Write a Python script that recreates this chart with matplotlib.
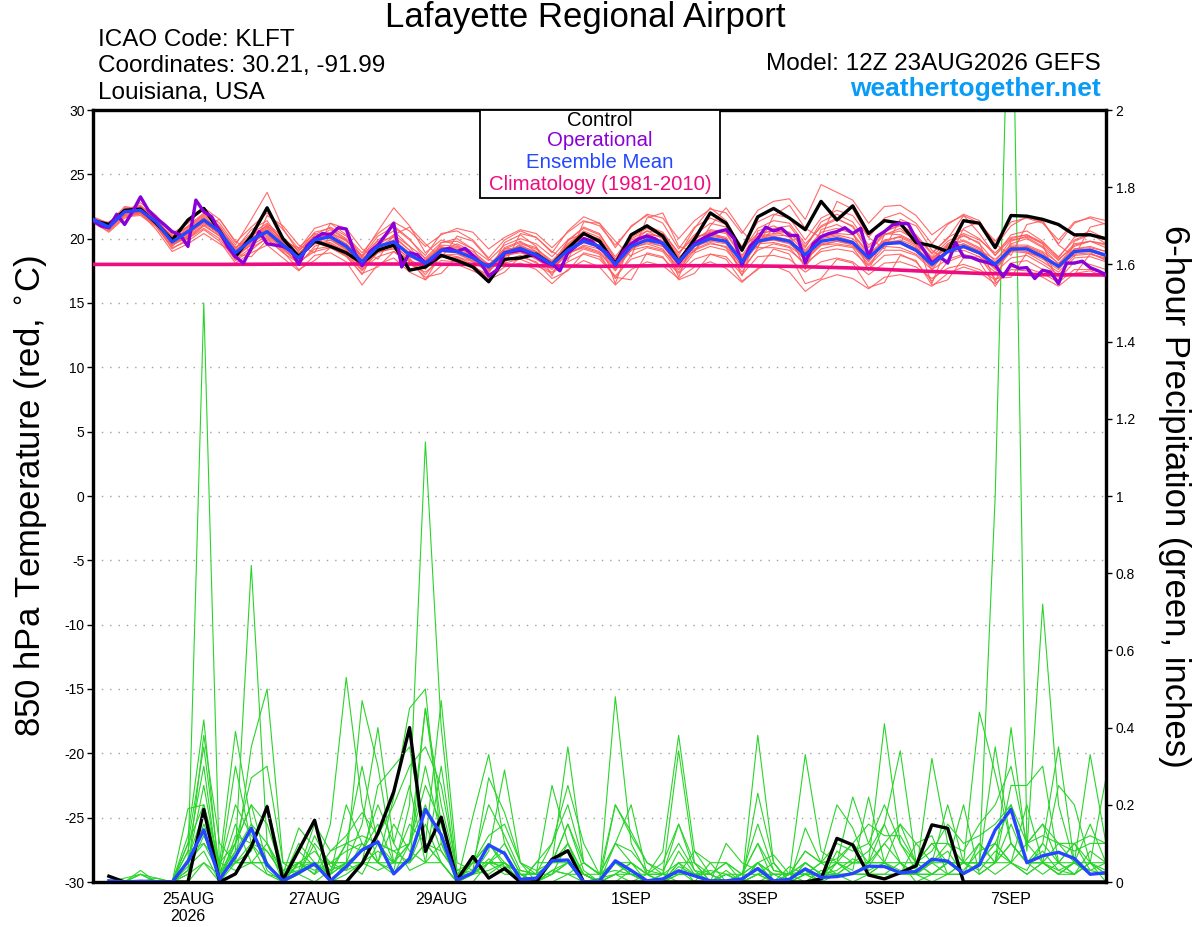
import matplotlib
matplotlib.use('Agg')
import matplotlib.pyplot as plt
import matplotlib.dates as mdates
from matplotlib.patches import Rectangle
from datetime import datetime, timedelta

plt.rcParams['font.family'] = ['Liberation Sans', 'DejaVu Sans']

# ---------------- data ----------------
start = datetime(2026, 8, 23, 12)
n_steps = 65          # 6-hourly temperature points
n_oper = 129          # 3-hourly operational points
n_clim = 17           # daily climatology points

tick_dates = [datetime(2026, 8, 25), datetime(2026, 8, 27), datetime(2026, 8, 29),
              datetime(2026, 9, 1), datetime(2026, 9, 3), datetime(2026, 9, 5),
              datetime(2026, 9, 7)]
tick_labels = ["25AUG\n2026", "27AUG", "29AUG", "1SEP", "3SEP", "5SEP", "7SEP"]
temp_ticks = [-30, -25, -20, -15, -10, -5, 0, 5, 10, 15, 20, 25, 30]
precip_ticks = [0, 0.2, 0.4, 0.6, 0.8, 1.0, 1.2, 1.4, 1.6, 1.8, 2.0]
precip_tick_labels = ["0", "0.2", "0.4", "0.6", "0.8", "1", "1.2", "1.4", "1.6", "1.8", "2"]

control_temp = [21.4, 21.1, 22.2, 22.3, 21.2, 19.9, 21.45, 22.35, 20.6, 18.6, 20.2, 22.4, 20.0,
                18.6, 19.8, 19.4, 18.9, 18.1, 19.1, 19.5, 17.55, 17.8, 18.7, 18.3, 17.8, 16.65,
                18.4, 18.5, 18.8, 18.0, 19.25, 20.4, 19.8, 18.05, 20.3, 21.0, 20.2, 18.2, 19.95,
                22.0, 21.2, 19.1, 21.7, 22.35, 21.6, 20.7, 22.9, 21.45, 22.55, 20.4, 21.4, 21.2,
                19.7, 19.45, 19.0, 21.4, 21.2, 19.3, 21.8, 21.75, 21.5, 21.1, 20.3, 20.3, 20.0]

mean_temp = [21.5, 20.9, 22.1, 22.2, 21.3, 19.75, 20.55, 21.45, 20.55, 18.9, 19.9, 20.55, 19.5,
             18.5, 19.9, 20.15, 19.4, 18.2, 19.4, 19.75, 18.75, 18.1, 19.1, 19.0, 18.5, 17.8,
             18.9, 19.25, 18.75, 18.0, 19.1, 19.8, 19.4, 18.0, 19.4, 19.9, 19.65, 18.2, 19.5,
             20.0, 19.8, 18.2, 19.8, 20.05, 19.8, 18.75, 19.8, 20.0, 19.7, 18.5, 19.6, 19.7,
             19.1, 18.0, 19.0, 19.4, 18.9, 18.0, 19.2, 19.2, 18.6, 17.85, 19.0, 19.1, 18.7]

oper_temp = [21.4, 21.0, 20.85, 21.9, 21.1, 22.1, 23.25, 22.2, 21.6, 21.1, 20.55, 20.3, 19.4, 23.0, 22.1, 21.7,
             20.55, 19.4, 18.6, 18.1, 19.25, 20.55, 19.6, 19.5, 19.4, 19.1, 18.0, 19.4, 20.0, 20.4, 20.3, 20.85,
             20.75, 19.0, 17.9, 19.0, 19.5, 20.3, 21.2, 17.8, 18.9, 18.75, 18.1, 18.4, 19.1, 19.25, 19.0, 19.25,
             18.7, 18.1, 17.1, 17.55, 18.9, 19.0, 19.1, 18.9, 18.6, 18.2, 18.05, 17.5, 18.9, 19.4, 20.0, 19.8,
             19.25, 18.9, 17.95, 19.0, 19.6, 20.0, 20.2, 20.0, 19.6, 18.9, 18.1, 18.9, 19.6, 20.0, 20.3, 20.55,
             20.7, 20.0, 17.95, 19.4, 20.0, 20.9, 20.6, 20.8, 20.25, 20.25, 18.1, 19.6, 20.15, 20.4, 20.55, 20.85,
             20.4, 20.8, 18.6, 20.15, 20.55, 21.05, 21.2, 21.15, 20.0, 19.1, 18.1, 18.6, 18.1, 19.7, 18.6, 18.55,
             18.3, 18.15, 17.95, 17.05, 18.0, 17.7, 17.75, 16.9, 17.55, 17.4, 16.5, 18.1, 18.1, 18.25, 17.75, 17.5,
             17.2]

climatology = [18.0, 18.0, 18.0, 18.02, 18.03, 18.03, 18.0, 17.9, 17.85, 17.9, 17.9, 17.85,
               17.72, 17.5, 17.3, 17.2, 17.18]

r1 = [21.6, 21.0, 22.3, 22.6, 21.5, 20.1, 20.9, 21.8, 20.9, 19.3, 20.4, 21.2, 20.1,
      19.0, 20.5, 20.8, 20.0, 18.6, 19.9, 20.6, 19.4, 18.5, 19.7, 19.8, 19.2, 18.3,
      19.5, 20.0, 19.6, 18.6, 19.9, 20.8, 20.3, 18.6, 20.2, 21.0, 20.5, 18.9, 20.3,
      21.2, 20.9, 19.0, 20.8, 21.4, 21.2, 19.6, 20.9, 21.5, 21.0, 19.3, 20.6, 21.0,
      20.2, 18.8, 20.1, 20.7, 20.0, 18.7, 20.3, 20.6, 19.8, 18.5, 20.1, 20.6, 20.0]
r2 = [21.3, 20.7, 21.8, 21.9, 21.0, 19.5, 20.1, 21.0, 20.2, 18.4, 19.3, 20.0, 18.9,
      18.1, 19.2, 19.4, 18.7, 17.6, 18.6, 19.0, 18.0, 17.4, 18.3, 18.2, 17.8, 17.2,
      18.1, 18.4, 17.9, 17.3, 18.2, 18.8, 18.4, 17.1, 18.4, 18.8, 18.5, 17.3, 18.4,
      18.8, 18.6, 17.2, 18.6, 18.7, 18.4, 17.4, 18.2, 18.5, 18.2, 17.2, 18.1, 18.2,
      17.8, 16.9, 17.7, 18.0, 17.6, 16.8, 17.8, 17.7, 17.3, 16.6, 17.6, 17.6, 17.3]
r3 = [21.5, 20.8, 22.0, 22.4, 21.6, 20.0, 21.0, 22.0, 21.2, 19.5, 21.5, 23.6, 20.8,
      18.9, 19.6, 20.4, 19.9, 18.5, 19.2, 20.2, 19.1, 17.9, 19.0, 19.6, 19.0, 18.0,
      18.7, 19.6, 19.2, 18.3, 19.5, 20.5, 19.9, 17.8, 19.1, 20.4, 20.1, 18.6, 19.0,
      20.6, 20.4, 18.5, 19.4, 20.8, 21.0, 19.4, 21.0, 21.6, 20.9, 19.0, 20.3, 20.8,
      19.8, 18.4, 19.6, 20.3, 19.6, 18.2, 19.9, 20.1, 19.4, 18.3, 19.6, 19.8, 19.3]
r4 = [21.4, 21.1, 22.2, 22.0, 21.1, 19.9, 20.7, 21.6, 20.5, 19.0, 20.2, 21.0, 19.9,
      18.8, 20.3, 20.9, 20.2, 18.9, 20.4, 21.3, 20.6, 19.4, 20.3, 20.8, 20.5, 19.2,
      20.1, 20.7, 20.4, 19.3, 20.5, 21.4, 21.0, 19.5, 20.9, 21.9, 21.6, 20.0, 21.4,
      22.3, 22.0, 20.4, 22.2, 22.9, 23.1, 21.5, 24.2, 23.6, 23.0, 21.2, 22.5, 22.6,
      21.8, 20.3, 21.2, 21.8, 21.2, 19.8, 21.3, 21.6, 21.2, 19.9, 21.3, 21.6, 21.1]
r5 = [21.2, 20.6, 21.7, 21.8, 20.9, 19.3, 19.8, 20.7, 19.8, 18.1, 18.9, 19.5, 18.5,
      17.5, 18.7, 18.9, 18.2, 16.4, 18.0, 18.5, 17.4, 16.8, 17.9, 18.0, 17.5, 16.9,
      17.8, 18.1, 17.6, 16.5, 17.6, 18.3, 17.8, 16.4, 17.6, 18.2, 17.9, 16.9, 17.8,
      18.2, 17.7, 16.6, 17.7, 17.9, 17.4, 15.9, 16.8, 17.2, 16.9, 16.1, 17.0, 17.2,
      16.9, 16.3, 17.3, 17.8, 17.4, 16.5, 17.6, 17.5, 17.0, 16.3, 17.3, 17.5, 17.0]
r6 = [21.7, 21.2, 22.5, 22.3, 21.0, 19.6, 20.3, 21.3, 20.8, 19.2, 20.7, 21.4, 19.6,
      18.3, 20.0, 20.7, 19.9, 18.2, 19.6, 21.0, 20.0, 18.4, 19.5, 19.4, 18.6, 17.6,
      19.3, 19.8, 19.0, 17.9, 19.6, 20.6, 20.1, 18.4, 19.9, 20.3, 19.8, 18.0, 19.9,
      20.7, 20.5, 18.7, 20.4, 20.6, 20.1, 18.4, 19.5, 19.8, 19.6, 18.2, 19.8, 20.2,
      19.6, 18.3, 19.5, 19.9, 19.3, 17.9, 19.6, 20.0, 19.3, 18.0, 19.5, 19.8, 19.5]
r7 = [21.4, 20.9, 21.9, 22.1, 21.4, 19.7, 20.4, 21.2, 20.4, 18.7, 19.5, 20.2, 19.3,
      18.5, 19.6, 19.7, 19.0, 17.8, 19.1, 19.4, 18.5, 16.8, 18.8, 18.6, 18.2, 17.6,
      18.7, 18.9, 18.5, 17.7, 18.9, 19.3, 18.9, 17.5, 19.1, 19.4, 19.1, 17.8, 19.2,
      19.7, 19.3, 17.4, 19.3, 19.3, 19.1, 18.1, 19.0, 19.2, 19.0, 17.9, 19.1, 19.1,
      18.7, 17.6, 18.4, 18.8, 18.4, 17.4, 18.5, 18.7, 18.0, 17.2, 18.5, 18.6, 18.2]
r8 = [21.6, 20.9, 22.0, 22.1, 21.2, 19.9, 20.8, 21.7, 20.7, 19.0, 20.0, 20.8, 19.7,
      19.3, 20.4, 20.0, 19.2, 18.0, 19.3, 19.6, 18.8, 18.3, 19.3, 19.3, 18.8, 18.0,
      19.0, 19.4, 19.0, 18.2, 19.3, 20.1, 19.7, 18.3, 19.6, 20.3, 20.2, 18.5, 19.8,
      20.3, 20.0, 18.4, 20.1, 20.3, 20.2, 19.0, 20.2, 20.4, 20.3, 18.8, 19.9, 20.1,
      19.5, 18.5, 19.3, 19.6, 19.1, 18.4, 19.5, 19.5, 19.0, 18.1, 19.2, 19.4, 19.0]
r9 = [21.3, 20.8, 22.1, 22.3, 21.3, 19.8, 20.6, 21.4, 20.5, 18.8, 19.8, 20.3, 19.4,
      18.7, 20.1, 20.5, 19.8, 18.7, 20.6, 22.4, 21.0, 18.9, 19.9, 19.5, 18.7, 17.9,
      19.2, 19.7, 19.3, 18.1, 19.8, 20.9, 20.4, 18.4, 20.1, 20.8, 20.3, 18.7, 20.8,
      22.4, 21.4, 19.2, 20.4, 20.6, 20.5, 19.1, 20.5, 20.8, 20.4, 18.9, 20.5, 21.1,
      20.3, 18.9, 20.0, 21.8, 20.4, 18.7, 20.0, 20.3, 19.7, 18.6, 19.9, 20.4, 19.6]
r10 = [21.5, 21.0, 22.2, 22.5, 21.3, 19.5, 20.2, 21.5, 20.9, 18.5, 19.6, 20.5, 19.3,
       18.0, 19.4, 19.9, 19.1, 17.7, 18.9, 19.3, 18.2, 17.7, 18.6, 18.5, 17.9, 17.0,
       18.3, 18.7, 18.1, 17.4, 18.5, 19.2, 18.8, 16.9, 18.7, 19.3, 19.0, 17.4, 18.9,
       19.4, 19.1, 17.7, 19.1, 19.6, 19.3, 17.9, 19.2, 19.5, 19.3, 17.6, 18.7, 18.8,
       18.2, 16.7, 18.2, 18.7, 18.2, 16.3, 18.1, 18.3, 17.6, 16.8, 18.2, 18.0, 17.6]
r11 = [21.4, 20.7, 21.9, 22.0, 21.1, 19.4, 20.5, 21.5, 20.6, 19.1, 20.3, 21.0, 20.0,
       19.1, 20.2, 20.4, 19.6, 18.4, 19.8, 20.1, 19.1, 18.0, 19.0, 19.1, 18.4, 17.5,
       18.8, 19.5, 18.9, 18.0, 19.4, 20.3, 20.0, 18.1, 19.7, 20.6, 20.4, 18.9, 20.1,
       20.4, 20.1, 18.0, 20.2, 20.4, 20.5, 19.3, 21.3, 21.9, 21.3, 19.5, 20.4, 20.3,
       19.7, 18.6, 19.8, 20.4, 19.9, 18.9, 20.1, 20.3, 19.6, 18.4, 19.4, 19.8, 19.6]
r12 = [21.5, 20.9, 22.4, 22.4, 21.4, 20.2, 20.9, 21.9, 21.0, 19.3, 20.1, 20.5, 19.6,
       18.8, 20.1, 20.3, 19.4, 17.9, 19.2, 19.5, 18.4, 17.2, 18.7, 18.8, 18.3, 17.5,
       18.6, 19.1, 18.6, 17.8, 18.8, 19.5, 19.2, 17.7, 19.2, 19.7, 19.4, 17.9, 19.4,
       20.2, 20.0, 18.3, 19.7, 19.9, 19.7, 18.3, 19.5, 19.6, 19.4, 18.3, 19.6, 19.9,
       19.4, 17.6, 19.2, 19.3, 18.8, 17.6, 19.0, 19.4, 18.9, 17.7, 18.8, 18.9, 18.3]
r13 = [21.6, 21.1, 22.0, 22.2, 21.2, 19.8, 20.5, 21.3, 20.3, 18.6, 19.7, 20.4, 19.2,
       18.4, 19.8, 19.6, 18.9, 17.5, 19.0, 19.2, 18.3, 17.9, 19.0, 18.9, 18.2, 17.4,
       18.7, 19.0, 18.4, 17.6, 18.8, 19.4, 19.0, 17.6, 19.3, 19.6, 19.2, 17.6, 19.1,
       19.6, 19.4, 17.9, 19.6, 19.7, 19.4, 18.5, 19.6, 19.8, 19.5, 18.0, 19.4, 19.3,
       18.8, 17.8, 18.9, 19.1, 18.6, 17.7, 19.0, 18.9, 18.2, 17.4, 18.7, 18.8, 18.4]
r14 = [21.3, 20.8, 22.1, 22.0, 21.3, 19.9, 20.6, 21.6, 20.7, 19.0, 19.9, 21.1, 19.8,
       18.6, 19.9, 20.2, 19.5, 18.3, 19.5, 19.7, 18.6, 18.2, 19.3, 19.2, 18.6, 17.9,
       19.1, 19.2, 18.6, 17.9, 19.0, 19.7, 19.5, 18.2, 19.7, 20.1, 19.7, 18.3, 19.6,
       20.1, 19.8, 18.6, 20.0, 20.2, 19.9, 18.9, 20.0, 20.2, 19.8, 18.6, 19.7, 19.7,
       19.3, 18.2, 19.4, 19.8, 19.2, 18.0, 19.3, 19.4, 18.8, 17.9, 19.2, 19.3, 19.0]
r15 = [21.4, 21.0, 22.3, 22.2, 21.2, 19.6, 20.2, 21.1, 20.2, 18.9, 20.0, 20.7, 19.5,
       18.7, 19.7, 19.9, 19.2, 18.1, 19.3, 19.9, 18.9, 18.3, 19.4, 19.0, 18.5, 17.9,
       19.2, 19.3, 18.6, 18.1, 19.2, 19.9, 19.3, 17.9, 19.5, 20.0, 19.7, 18.1, 19.4,
       19.8, 19.6, 17.8, 19.8, 19.9, 19.6, 18.6, 19.9, 19.9, 19.6, 18.4, 19.6, 19.6,
       19.0, 18.0, 19.1, 19.3, 18.8, 17.8, 19.1, 19.0, 18.4, 17.6, 19.0, 19.0, 18.6]
r16 = [21.5, 20.9, 22.0, 22.4, 21.5, 20.0, 20.4, 21.4, 20.6, 19.0, 20.0, 20.9, 19.7,
       18.5, 19.9, 20.2, 19.6, 18.1, 19.3, 19.8, 18.6, 18.0, 19.2, 19.1, 18.4, 17.7,
       19.0, 19.3, 18.8, 18.0, 19.0, 19.7, 19.3, 18.1, 19.5, 19.8, 19.4, 18.2, 19.6,
       19.9, 19.7, 18.3, 19.9, 20.1, 19.9, 18.8, 20.1, 20.3, 20.0, 18.7, 19.8, 19.8,
       19.2, 18.1, 19.2, 19.6, 19.0, 18.1, 19.4, 19.3, 18.7, 17.8, 19.1, 19.2, 18.8]
r17 = [21.2, 21.3, 22.0, 22.8, 21.8, 20.3, 20.0, 21.0, 21.5, 19.8, 19.0, 21.8, 21.0,
       19.5, 18.9, 21.2, 20.8, 19.2, 18.4, 20.3, 20.9, 19.6, 18.5, 20.2, 19.8, 18.4,
       18.0, 20.4, 20.1, 19.0, 18.3, 21.3, 21.2, 19.8, 18.6, 21.6, 22.0, 19.4, 19.0,
       21.0, 22.4, 20.6, 19.3, 21.8, 22.6, 20.8, 20.1, 22.9, 22.3, 20.1, 19.2, 21.5,
       21.0, 19.1, 18.2, 20.8, 21.3, 19.6, 18.7, 21.1, 21.4, 19.5, 18.6, 20.9, 21.2]
r18 = [21.3, 20.5, 21.6, 22.0, 20.7, 19.0, 19.6, 20.4, 19.6, 18.8, 18.6, 19.9, 19.0,
       17.6, 18.3, 19.3, 18.6, 17.3, 17.8, 19.0, 18.2, 17.0, 17.3, 18.6, 18.0, 16.8,
       17.4, 18.6, 18.2, 16.9, 17.5, 18.9, 18.6, 17.0, 16.8, 18.9, 18.6, 16.8, 17.3,
       18.8, 18.4, 16.7, 17.6, 19.2, 18.8, 16.5, 16.9, 18.4, 18.1, 16.2, 16.6, 18.7,
       18.3, 16.4, 16.8, 18.5, 18.6, 16.9, 17.0, 18.9, 18.6, 17.0, 17.2, 18.8, 18.5]
r19 = [21.6, 21.2, 22.3, 22.5, 21.7, 20.4, 21.2, 22.4, 21.5, 19.7, 20.9, 22.0, 20.7,
       19.2, 20.8, 21.2, 20.3, 18.6, 20.2, 20.9, 19.9, 18.7, 20.4, 20.6, 19.9, 18.5,
       19.9, 20.6, 20.1, 18.9, 20.6, 21.7, 21.2, 19.3, 21.0, 21.8, 21.2, 19.2, 20.9,
       21.6, 21.1, 19.4, 21.3, 21.9, 21.6, 19.9, 21.6, 22.2, 21.8, 20.1, 21.6, 22.0,
       21.2, 19.6, 21.1, 21.9, 21.4, 19.4, 21.0, 21.7, 21.3, 19.6, 21.2, 21.7, 21.4]
r20 = [21.4, 21.0, 21.8, 22.0, 21.0, 19.2, 20.0, 20.8, 20.0, 18.3, 19.1, 20.1, 19.1,
       18.2, 19.0, 19.3, 18.7, 17.2, 19.5, 20.3, 19.4, 17.6, 19.7, 20.0, 19.2, 17.3,
       19.7, 20.3, 19.4, 17.1, 19.9, 20.4, 19.9, 16.5, 20.0, 20.6, 20.0, 17.0, 20.1,
       20.5, 19.9, 17.1, 20.6, 21.0, 20.4, 17.6, 20.7, 21.1, 20.5, 17.5, 20.3, 20.6,
       19.9, 16.5, 19.6, 20.2, 19.7, 16.6, 19.8, 20.2, 19.6, 16.5, 19.8, 20.3, 19.9]
red_members = [r1, r2, r3, r4, r5, r6, r7, r8, r9, r10, r11, r12, r13, r14, r15, r16,
               r17, r18, r19, r20]

# 6-hour precipitation, valid from 18Z 23AUG (64 values each)
control_precip = [0.015, 0, 0, 0, 0, 0, 0.188, 0, 0.021, 0.091, 0.195, 0.005, 0.083, 0.16, 0, 0,
                  0.048, 0.126, 0.234, 0.40, 0.079, 0.168, 0.005, 0.066, 0.01, 0.035, 0, 0, 0.059, 0.081, 0, 0,
                  0, 0, 0, 0, 0, 0, 0, 0, 0, 0, 0, 0, 0, 0.008, 0.113, 0.096,
                  0.018, 0.008, 0.024, 0.042, 0.148, 0.139, 0, 0, 0, 0, 0, 0, 0, 0, 0, 0]
mean_precip = [0.003, 0, 0.002, 0.001, 0, 0.053, 0.135, 0.007, 0.066, 0.139, 0.044, 0.003, 0.024, 0.047, 0.003, 0.04,
               0.083, 0.104, 0.021, 0.061, 0.188, 0.122, 0.005, 0.024, 0.096, 0.074, 0.007, 0.01, 0.055, 0.057, 0, 0.003,
               0.055, 0.03, 0.003, 0.008, 0.029, 0.016, 0.003, 0.003, 0.008, 0.035, 0.003, 0.007, 0.034, 0.012, 0.014, 0.022,
               0.041, 0.040, 0.024, 0.027, 0.059, 0.054, 0.022, 0.044, 0.135, 0.188, 0.05, 0.068, 0.077, 0.061, 0.02, 0.024]

g1 = [0, 0, 0, 0, 0, 0.05, 1.50, 0.02, 0.10, 0.20, 0.05, 0, 0.03, 0.05, 0.02, 0.10,
      0.08, 0.15, 0.05, 0.10, 0.30, 0.12, 0, 0.02, 0.06, 0.03, 0, 0, 0.02, 0.10, 0.02, 0,
      0.02, 0.05, 0, 0, 0.03, 0, 0, 0.02, 0, 0.05, 0, 0, 0.05, 0.02, 0.03, 0.06,
      0.04, 0.10, 0.05, 0, 0.02, 0.05, 0.03, 0.08, 0.10, 0.20, 0.05, 0.08, 0.03, 0.02, 0.05, 0.02]
g2 = [0, 0, 0.02, 0, 0, 0.12, 0.42, 0, 0.08, 0.82, 0.10, 0, 0.02, 0.12, 0.04, 0.03,
      0.10, 0.05, 0.03, 0.20, 1.14, 0.40, 0.02, 0.05, 0.10, 0.04, 0, 0, 0.05, 0.15, 0.03, 0,
      0.05, 0.02, 0, 0, 0.08, 0.02, 0, 0, 0.02, 0.10, 0, 0.02, 0.03, 0, 0.08, 0.05,
      0.05, 0.41, 0.10, 0.03, 0.05, 0.08, 0.02, 0.05, 1.00, 2.60, 0.10, 0.15, 0.05, 0.02, 0.08, 0.05]
g3 = [0, 0, 0, 0, 0, 0.19, 0.20, 0.05, 0.39, 0.15, 0.03, 0, 0.05, 0.02, 0.15, 0.53,
      0.20, 0.05, 0.02, 0.10, 0.45, 0.15, 0, 0.02, 0.08, 0.29, 0.05, 0, 0.02, 0.05, 0.02, 0,
      0.48, 0.10, 0.02, 0, 0.04, 0.02, 0, 0.03, 0, 0.02, 0.05, 0, 0.14, 0.05, 0.02, 0.05,
      0.08, 0.15, 0.34, 0.05, 0.02, 0.05, 0.02, 0.10, 0.05, 0.40, 0.08, 0.72, 0.20, 0.05, 0.03, 0.02]
g4 = [0, 0, 0, 0, 0, 0.03, 0.38, 0.10, 0.05, 0.35, 0.50, 0.05, 0.02, 0, 0.03, 0.05,
      0.47, 0.30, 0.05, 0.05, 0.10, 0.47, 0.05, 0.03, 0.02, 0.05, 0.02, 0, 0.03, 0.02, 0, 0,
      0.10, 0.20, 0.02, 0, 0.05, 0, 0, 0.10, 0.05, 0.03, 0, 0.02, 0.05, 0.02, 0.05, 0.22,
      0.10, 0.05, 0.03, 0.02, 0.32, 0.10, 0.05, 0.03, 0.08, 0.05, 0.03, 0.10, 0.35, 0.05, 0.33, 0.10]
g5 = [0, 0, 0, 0.01, 0, 0.10, 0.35, 0.03, 0.30, 0.10, 0.08, 0.02, 0.14, 0.09, 0, 0.02,
      0.05, 0.25, 0.30, 0.35, 0.10, 0.05, 0, 0.17, 0.33, 0.10, 0.02, 0, 0, 0.02, 0.05, 0.02,
      0.03, 0.02, 0, 0.02, 0.34, 0.05, 0, 0.02, 0, 0.05, 0.07, 0.02, 0, 0.03, 0.02, 0.02,
      0.05, 0.05, 0.15, 0.10, 0.05, 0.20, 0.05, 0.44, 0.28, 0.10, 0.05, 0.05, 0.02, 0.05, 0.02, 0.02]
g6 = [0, 0, 0, 0, 0, 0.08, 0.30, 0, 0.10, 0.27, 0.30, 0.05, 0.05, 0.03, 0.05, 0.08,
      0.10, 0.05, 0.22, 0.45, 0.50, 0.10, 0.02, 0.03, 0.27, 0.18, 0.05, 0.02, 0.25, 0.10, 0, 0,
      0.20, 0.13, 0.05, 0.02, 0.02, 0.08, 0.05, 0, 0, 0.23, 0.05, 0, 0.02, 0.05, 0.20, 0.14,
      0.03, 0.05, 0.02, 0.02, 0.05, 0.05, 0.20, 0.02, 0.05, 0.25, 0.25, 0.30, 0.05, 0.02, 0.05, 0.27]
g7 = [0, 0, 0.02, 0, 0, 0.05, 0.25, 0.02, 0.05, 0.08, 0.20, 0.03, 0.02, 0.10, 0.05, 0.05,
      0.15, 0.40, 0.10, 0.03, 0.05, 0.30, 0.02, 0.05, 0.05, 0.04, 0.03, 0.02, 0.05, 0.35, 0.05, 0.02,
      0.05, 0.02, 0.02, 0.08, 0.38, 0.08, 0.02, 0, 0.02, 0.05, 0, 0.04, 0.02, 0, 0.05, 0.03,
      0.22, 0.05, 0.02, 0.10, 0.12, 0.02, 0.05, 0.05, 0.35, 0.10, 0.05, 0.05, 0.25, 0.20, 0.05, 0.03]
g8 = [0, 0, 0, 0, 0, 0.02, 0.15, 0.05, 0.03, 0.05, 0.05, 0, 0.05, 0.02, 0.08, 0.10,
      0.30, 0.10, 0.08, 0.05, 0.45, 0.20, 0.03, 0.02, 0.05, 0.08, 0, 0.05, 0.10, 0.25, 0.10, 0.02,
      0.05, 0.05, 0.02, 0.05, 0.15, 0.03, 0, 0, 0, 0.38, 0.05, 0, 0.05, 0.02, 0.02, 0.05,
      0.05, 0.15, 0.05, 0.05, 0.02, 0.05, 0.05, 0.05, 0.10, 0.05, 0.10, 0.05, 0.03, 0.05, 0.15, 0.05]
g9 = [0, 0, 0, 0, 0, 0.10, 0.20, 0.02, 0.15, 0.05, 0.02, 0.01, 0.10, 0.05, 0.02, 0.05,
      0.08, 0.20, 0.10, 0.25, 0.05, 0.10, 0, 0.05, 0.10, 0.05, 0.02, 0, 0.05, 0.05, 0, 0.01,
      0.02, 0.05, 0.02, 0, 0.02, 0.02, 0.02, 0, 0, 0.05, 0.02, 0.02, 0.33, 0.08, 0.05, 0.10,
      0.05, 0.05, 0.05, 0.02, 0.05, 0.02, 0.05, 0.05, 0.05, 0.15, 0.05, 0.05, 0.05, 0.10, 0.03, 0.05]
g10 = [0, 0, 0, 0, 0, 0.05, 0.10, 0.02, 0.08, 0.15, 0.10, 0.02, 0.04, 0.05, 0.05, 0.05,
       0.05, 0.08, 0.05, 0.10, 0.20, 0.08, 0.02, 0.05, 0.05, 0.05, 0.02, 0.02, 0.05, 0.10, 0.02, 0.02,
       0.10, 0.05, 0.02, 0.02, 0.05, 0.02, 0.02, 0, 0.02, 0.05, 0.02, 0.02, 0.05, 0.02, 0.05, 0.05,
       0.05, 0.10, 0.15, 0.05, 0.05, 0.10, 0.05, 0.10, 0.05, 0.10, 0.05, 0.10, 0.05, 0.10, 0.05, 0.05]
g11 = [0, 0, 0, 0, 0, 0, 0.05, 0, 0.12, 0.10, 0.02, 0, 0.05, 0.05, 0.02, 0.20,
       0.10, 0.05, 0.05, 0.15, 0.10, 0.05, 0, 0, 0.05, 0.10, 0.02, 0, 0.03, 0.05, 0.02, 0,
       0, 0.03, 0, 0, 0.05, 0.05, 0, 0, 0, 0.02, 0.02, 0, 0.02, 0.05, 0.05, 0.02,
       0.02, 0.05, 0.02, 0.05, 0.10, 0.05, 0.05, 0.05, 0.10, 0.05, 0.20, 0.05, 0.10, 0.05, 0.05, 0.02]
g12 = [0, 0, 0, 0, 0, 0.02, 0.05, 0.02, 0.05, 0.05, 0.05, 0, 0.02, 0.05, 0, 0.05,
       0.02, 0.10, 0.05, 0.05, 0.15, 0.05, 0, 0.05, 0.05, 0.05, 0, 0.05, 0.05, 0.08, 0.02, 0,
       0.02, 0, 0.02, 0.02, 0, 0, 0.05, 0.05, 0, 0.02, 0, 0, 0.02, 0, 0.02, 0,
       0.02, 0.02, 0.05, 0.02, 0, 0.02, 0.02, 0.05, 0.02, 0.05, 0.02, 0.05, 0.02, 0.02, 0.05, 0]
g13 = [0, 0, 0.03, 0, 0, 0.08, 0.10, 0.05, 0.10, 0.20, 0.15, 0.02, 0.05, 0.08, 0.03, 0.10,
       0.12, 0.10, 0.08, 0.10, 0.25, 0.15, 0.02, 0.05, 0.20, 0.12, 0.03, 0.02, 0.10, 0.20, 0.05, 0.02,
       0.10, 0.08, 0.03, 0.02, 0.15, 0.05, 0.02, 0.05, 0.02, 0.10, 0.03, 0.02, 0.08, 0.05, 0.10, 0.08,
       0.10, 0.20, 0.10, 0.05, 0.10, 0.10, 0.08, 0.15, 0.20, 0.30, 0.10, 0.15, 0.10, 0.10, 0.12, 0.10]
g14 = [0, 0, 0, 0, 0, 0.04, 0.08, 0, 0.05, 0.10, 0.05, 0, 0.08, 0.04, 0.02, 0.05,
       0.05, 0.05, 0.15, 0.08, 0.05, 0.05, 0, 0.02, 0.03, 0.05, 0.02, 0, 0.03, 0.02, 0.02, 0,
       0.05, 0.02, 0, 0, 0.02, 0.02, 0.03, 0.02, 0, 0, 0.02, 0.02, 0.02, 0.02, 0.05, 0.02,
       0.02, 0.02, 0.02, 0.02, 0.02, 0.05, 0.05, 0.02, 0.05, 0.10, 0.05, 0.02, 0.05, 0.05, 0.02, 0.02]
g15 = [0, 0.01, 0.02, 0.01, 0, 0.03, 0.12, 0.03, 0.05, 0.05, 0.10, 0.03, 0.05, 0.02, 0.05, 0.03,
       0.05, 0.03, 0.05, 0.05, 0.10, 0.08, 0.02, 0.02, 0.05, 0.02, 0.02, 0.02, 0.02, 0.05, 0, 0,
       0.02, 0.02, 0, 0.02, 0.02, 0.02, 0, 0.02, 0.02, 0.02, 0, 0.02, 0.02, 0.02, 0.02, 0.02,
       0.02, 0.05, 0.02, 0.02, 0.02, 0.02, 0.02, 0.05, 0.05, 0.05, 0.02, 0.05, 0.02, 0.05, 0.02, 0.02]
g16 = [0, 0, 0, 0, 0, 0.06, 0.18, 0.04, 0.20, 0.12, 0.08, 0.02, 0.03, 0.15, 0.08, 0.12,
       0.18, 0.12, 0.20, 0.30, 0.35, 0.25, 0.03, 0.05, 0.12, 0.15, 0.05, 0.03, 0.05, 0.15, 0.05, 0.02,
       0.20, 0.12, 0.05, 0.03, 0.10, 0.03, 0.02, 0.05, 0.02, 0.15, 0.03, 0.02, 0.08, 0.05, 0.06, 0.10,
       0.15, 0.12, 0.12, 0.05, 0.08, 0.15, 0.10, 0.12, 0.15, 0.20, 0.10, 0.12, 0.10, 0.08, 0.10, 0.10]
green_members = [g1, g2, g3, g4, g5, g6, g7, g8, g9, g10, g11, g12, g13, g14, g15, g16]

# ---------------- time axes ----------------
t_temp = [start + timedelta(hours=6 * i) for i in range(n_steps)]
t_precip = [start + timedelta(hours=6 * i) for i in range(1, n_steps)]
t_oper = [start + timedelta(hours=3 * j) for j in range(n_oper)]
t_clim = [start + timedelta(days=k) for k in range(n_clim)]

# ---------------- figure ----------------
W, H = 1200, 927
fig = plt.figure(figsize=(W / 100, H / 100), dpi=100)
ax = fig.add_axes([93 / W, 45 / H, 1013 / W, 772 / H])
ax2 = ax.twinx()

RED = '#ff5a5a'
GREEN = '#2ad42a'
BLACK = '#000000'
PURPLE = '#8a00d8'
BLUE = '#2446ff'
PINK = '#ee0c80'

# precipitation (right axis)
for g in green_members:
    ax2.plot(t_precip, g, color=GREEN, lw=0.8, zorder=1)
ax2.plot(t_precip, control_precip, color=BLACK, lw=2.4, zorder=3)
ax2.plot(t_precip, mean_precip, color=BLUE, lw=2.4, zorder=4)

# temperature (left axis)
for r in red_members:
    ax.plot(t_temp, r, color=RED, lw=0.8, alpha=0.9, zorder=2)
ax.plot(t_clim, climatology, color=PINK, lw=2.6, zorder=3)
ax.plot(t_temp, control_temp, color=BLACK, lw=2.4, zorder=4)
ax.plot(t_oper, oper_temp, color=PURPLE, lw=2.4, zorder=5)
ax.plot(t_temp, mean_temp, color=BLUE, lw=2.4, zorder=6)

ax.set_zorder(ax2.get_zorder() + 1)
ax.patch.set_visible(False)

x0 = mdates.date2num(start)
x1 = mdates.date2num(start + timedelta(days=16))
ax.set_xlim(x0, x1)
ax.set_ylim(-30, 30)
ax2.set_ylim(0, 2)

ax.set_yticks(temp_ticks)
ax.set_yticklabels([str(v) for v in temp_ticks])
ax2.set_yticks(precip_ticks)
ax2.set_yticklabels(precip_tick_labels)
ax.set_xticks([mdates.date2num(d) for d in tick_dates])
ax.set_xticklabels(tick_labels)

ax.tick_params(axis='y', direction='out', length=4, width=1, labelsize=10, pad=2)
ax2.tick_params(axis='y', direction='out', length=4, width=1, labelsize=10, pad=3)
ax.tick_params(axis='x', length=0, labelsize=11.5, pad=7)

ax.yaxis.grid(True, linestyle=(0, (1, 5)), color='#a0a0a0', linewidth=1.0, zorder=0)
ax.set_axisbelow(True)

for a in (ax, ax2):
    for s in a.spines.values():
        s.set_linewidth(2.3)

# axis titles
fig.text(31 / W, 1 - 496 / H, "850 hPa Temperature (red, $^{\\circ}$C)", rotation=90,
         ha='center', va='center', fontsize=25)
fig.text(1175 / W, 1 - 496 / H, "6-hour Precipitation (green, inches)", rotation=270,
         ha='center', va='center', fontsize=25)

# legend box
bx0, bx1 = (480 - 93) / 1013, (720 - 93) / 1013
by0 = (882 - 198) / 772
ax.add_patch(Rectangle((bx0, by0), bx1 - bx0, 1.0 - by0, transform=ax.transAxes,
                       facecolor='white', edgecolor='black', lw=1.3, zorder=20, clip_on=False))
legend_items = [("Control", BLACK, 120), ("Operational", PURPLE, 141),
                ("Ensemble Mean", BLUE, 163), ("Climatology (1981-2010)", PINK, 185)]
for txt, col, ypx in legend_items:
    ax.text((600 - 93) / 1013, (882 - ypx) / 772, txt, transform=ax.transAxes,
            ha='center', va='center', fontsize=14.7, color=col, zorder=21)

# header texts
fig.text(585.5 / W, 1 - 18 / H, "Lafayette Regional Airport", ha='center', va='center', fontsize=25)
fig.text(98 / W, 1 - 40 / H, "ICAO Code: KLFT", ha='left', va='center', fontsize=17.5)
fig.text(98 / W, 1 - 66 / H, "Coordinates: 30.21, -91.99", ha='left', va='center', fontsize=17.5)
fig.text(98 / W, 1 - 93 / H, "Louisiana, USA", ha='left', va='center', fontsize=17.5)
fig.text(1101 / W, 1 - 64 / H, "Model: 12Z 23AUG2026 GEFS", ha='right', va='center', fontsize=17.5)
fig.text(1101 / W, 1 - 89 / H, "weathertogether.net", ha='right', va='center', fontsize=19,
         fontweight='bold', color='#0a9cf5')

fig.savefig('out.png', dpi=100)
